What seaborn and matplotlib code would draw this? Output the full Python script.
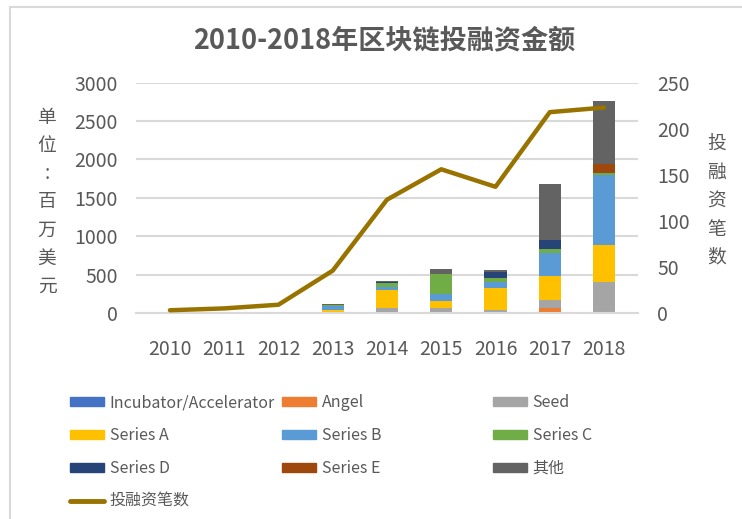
import numpy as np
import pandas as pd
import seaborn as sns
import matplotlib.pyplot as plt
import matplotlib.patches as mpatches
from matplotlib.lines import Line2D

sns.set_style("white")
plt.rcParams['font.family'] = ['Noto Sans CJK SC', 'DejaVu Sans']

years = ['2010', '2011', '2012', '2013', '2014', '2015', '2016', '2017', '2018']

# funding amount by round, million USD (bottom -> top of stack)
rounds = ['Incubator/Accelerator', 'Angel', 'Seed', 'Series A', 'Series B',
          'Series C', 'Series D', 'Series E', '其他']
incubator = [0, 0, 0, 0, 0, 0, 0, 0, 0]
angel = [0, 0, 0, 0, 0, 0, 0, 70, 10]
seed = [0, 0, 5, 5, 60, 60, 40, 95, 400]
series_a = [0, 0, 0, 40, 240, 100, 285, 320, 470]
series_b = [0, 0, 10, 50, 45, 85, 85, 300, 920]
series_c = [0, 0, 0, 5, 40, 265, 50, 45, 20]
series_d = [0, 0, 0, 5, 15, 0, 75, 120, 0]
series_e = [0, 0, 0, 0, 0, 0, 0, 0, 115]
other = [0, 0, 0, 15, 15, 65, 20, 730, 820]

# number of deals
deals = [3, 5, 9, 46, 123, 156, 137, 218, 223]

colors = ['#4472C4', '#ED7D31', '#A5A5A5', '#FFC000', '#5B9BD5',
          '#70AD47', '#264478', '#9E480E', '#636363']
line_color = '#997300'
text_color = '#595959'
grid_color = '#D9D9D9'

series = [incubator, angel, seed, series_a, series_b, series_c, series_d, series_e, other]
df = pd.DataFrame(dict(zip(rounds, series)), index=years)
cum = df.cumsum(axis=1)

fig, ax = plt.subplots(figsize=(7.42, 5.19), dpi=100)
fig.subplots_adjust(left=0.1833, right=0.8598, top=0.8407, bottom=0.3969)

# stacked bars: draw cumulative totals from the top series down
for name, col in reversed(list(zip(rounds, colors))):
    sns.barplot(x=years, y=cum[name].values, color=col, width=0.41,
                saturation=1, ax=ax, linewidth=0)

ax.set_ylim(0, 3000)
ax.set_yticks(range(0, 3001, 500))
ax.set_axisbelow(True)
ax.yaxis.grid(True, color=grid_color, lw=1.5)
ax.xaxis.grid(False)
for s in ['top', 'right', 'left']:
    ax.spines[s].set_visible(False)
ax.spines['bottom'].set_color(grid_color)
ax.spines['bottom'].set_linewidth(1.5)
ax.tick_params(axis='y', length=0, pad=13, labelsize=14, labelcolor=text_color)
ax.tick_params(axis='x', length=0, pad=19, labelsize=14, labelcolor=text_color)
ax.set_xlabel('')
ax.set_ylabel('')

ax2 = ax.twinx()
sns.lineplot(x=np.arange(len(years)), y=deals, color=line_color, lw=3.2, ax=ax2)
ax2.set_ylim(0, 250)
ax2.set_yticks(range(0, 251, 50))
for s in ax2.spines.values():
    s.set_visible(False)
ax2.tick_params(axis='y', length=0, pad=14, labelsize=14, labelcolor=text_color)
ax2.set_ylabel('')

fig.text(384 / 742, 1 - 40 / 519, '2010-2018年区块链投融资金额', ha='center', va='center',
         fontsize=19.5, fontweight='bold', color=text_color)
fig.text(47 / 742, 1 - 202 / 519, '\n'.join('单位:百万美元'), ha='center', va='center',
         multialignment='center', fontsize=13.5, color=text_color, linespacing=1.45)
fig.text(717 / 742, 1 - 201 / 519, '\n'.join('投融资笔数'), ha='center', va='center',
         fontsize=13.5, color=text_color, linespacing=1.45)

# legend in three columns, row-major like the original
handles = [mpatches.Patch(color=c) for c in colors]
line_handle = Line2D([], [], color=line_color, lw=3.5)
columns = [
    ([handles[0], handles[3], handles[6], line_handle],
     [rounds[0], rounds[3], rounds[6], '投融资笔数'], 70),
    ([handles[1], handles[4], handles[7]], [rounds[1], rounds[4], rounds[7]], 282),
    ([handles[2], handles[5], handles[8]], [rounds[2], rounds[5], rounds[8]], 493),
]
for h, l, x in columns:
    leg = fig.legend(h, l, loc='upper left', bbox_to_anchor=(x / 742, 1 - 394 / 519),
                     frameon=False, fontsize=11.5, handlelength=2.13, handleheight=0.5,
                     handletextpad=0.35, labelspacing=1.0, borderpad=0, borderaxespad=0)
    for t in leg.get_texts():
        t.set_color(text_color)

# chart frame edges
fig.add_artist(Line2D([10 / 742, 10 / 742], [0, 1 - 7 / 519], transform=fig.transFigure,
                      color=grid_color, lw=1.5))
fig.add_artist(Line2D([10 / 742, 1], [1 - 7 / 519, 1 - 7 / 519], transform=fig.transFigure,
                      color=grid_color, lw=1.5))

fig.savefig('out.png', dpi=100)
